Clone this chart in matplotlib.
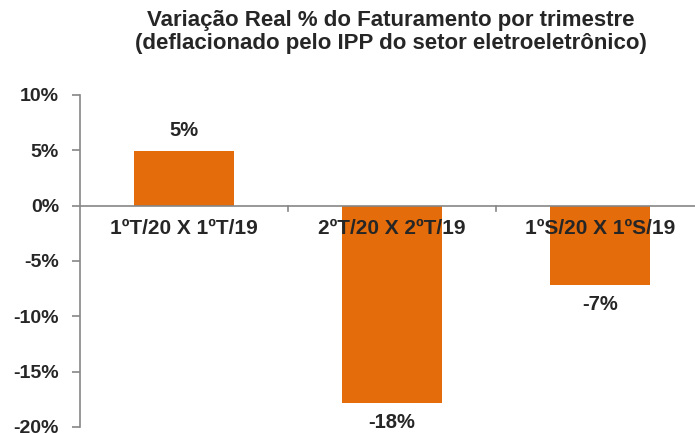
import matplotlib.pyplot as plt
from matplotlib.ticker import FuncFormatter

categories = ["1ºT/20 X 1ºT/19", "2ºT/20 X 2ºT/19", "1ºS/20 X 1ºS/19"]
values = [4.9, -17.8, -7.2]
value_labels = ["5%", "-18%", "-7%"]
title = "Variação Real % do Faturamento por trimestre\n(deflacionado pelo IPP do setor eletroeletrônico)"

BAR_COLOR = "#E46C0A"
TEXT_COLOR = "#262626"
AXIS_COLOR = "#868686"

plt.rcParams["font.family"] = ["Liberation Sans", "DejaVu Sans"]
plt.rcParams["font.weight"] = "bold"

fig = plt.figure(figsize=(6.95, 4.33), dpi=100)
ax = fig.add_axes([0.115, 0.014, 0.898, 0.767])

x = list(range(len(categories)))
ax.bar(x, values, width=0.48, color=BAR_COLOR, zorder=2)

ax.set_xlim(-0.5, len(categories) - 0.5)
ax.set_ylim(-20, 10)
ax.set_yticks(range(-20, 11, 5))
ax.yaxis.set_major_formatter(FuncFormatter(lambda v, _: f"{v:.0f}%"))
ax.tick_params(axis="y", labelsize=14, colors=AXIS_COLOR, labelcolor=TEXT_COLOR,
               length=6, width=1.2, pad=9)
ax.set_xticks([])

for side in ("top", "right", "bottom"):
    ax.spines[side].set_visible(False)
ax.spines["left"].set_color(AXIS_COLOR)
ax.spines["left"].set_linewidth(1.2)

# zero line with category separators
ax.axhline(0, color=AXIS_COLOR, lw=1.2, zorder=3)
for b in [0.5, 1.5]:
    ax.plot([b, b], [0, -0.5], color=AXIS_COLOR, lw=1.2, zorder=3)

for xi, cat in zip(x, categories):
    ax.text(xi, -1.2, cat, ha="center", va="top", fontsize=15,
            color=TEXT_COLOR, zorder=4)

for xi, v, lab in zip(x, values, value_labels):
    if v >= 0:
        ax.text(xi, v + 1.0, lab, ha="center", va="bottom", fontsize=14.5, color=TEXT_COLOR)
    else:
        ax.text(xi, v - 0.9, lab, ha="center", va="top", fontsize=14.5, color=TEXT_COLOR)

fig.text(0.562, 0.976, title, ha="center", va="top", fontsize=16,
         color=TEXT_COLOR, linespacing=1.1)

fig.savefig("out.png", dpi=100)
